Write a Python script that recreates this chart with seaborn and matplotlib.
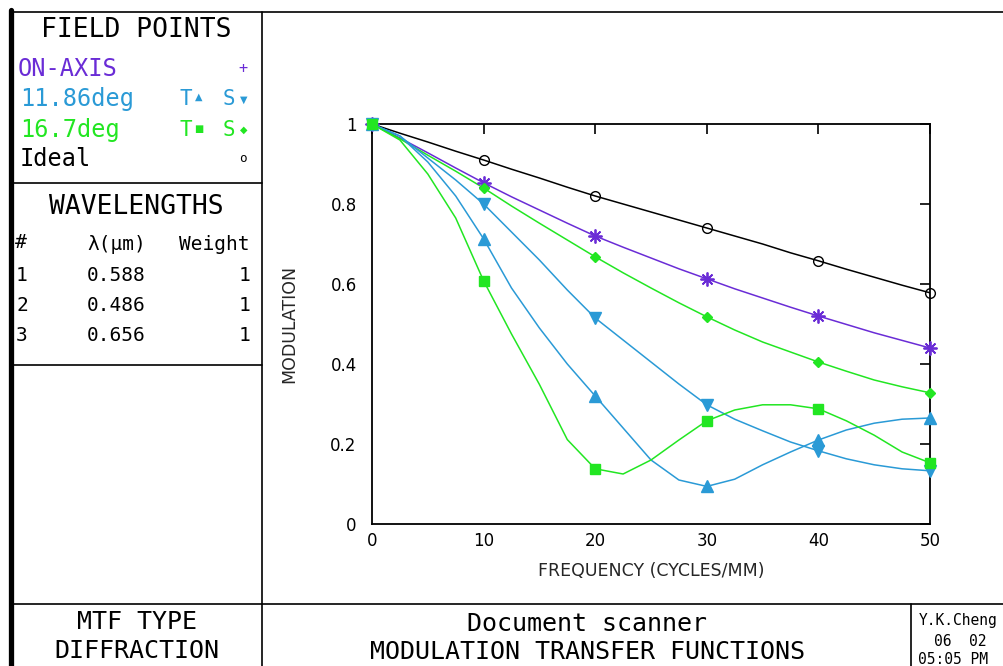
import matplotlib
matplotlib.use("Agg")
import matplotlib.pyplot as plt
from matplotlib.lines import Line2D
import seaborn as sns
import pandas as pd

freq = [0, 2.5, 5, 7.5, 10, 12.5, 15, 17.5, 20, 22.5, 25,
        27.5, 30, 32.5, 35, 37.5, 40, 42.5, 45, 47.5, 50]
on_axis = [1.0, 0.965, 0.928, 0.89, 0.853, 0.818, 0.785, 0.752, 0.72, 0.692, 0.665,
           0.638, 0.613, 0.588, 0.565, 0.542, 0.52, 0.499, 0.478, 0.459, 0.44]
tan_1186 = [1.0, 0.97, 0.905, 0.82, 0.713, 0.59, 0.49, 0.40, 0.32, 0.24, 0.16,
            0.11, 0.094, 0.112, 0.148, 0.18, 0.21, 0.235, 0.252, 0.262, 0.265]
sag_1186 = [1.0, 0.97, 0.915, 0.86, 0.80, 0.73, 0.66, 0.585, 0.515, 0.46, 0.405,
            0.35, 0.298, 0.262, 0.233, 0.205, 0.183, 0.163, 0.148, 0.138, 0.133]
tan_167 = [1.0, 0.96, 0.875, 0.765, 0.608, 0.475, 0.349, 0.211, 0.138, 0.125, 0.16,
           0.21, 0.258, 0.285, 0.298, 0.298, 0.288, 0.258, 0.222, 0.18, 0.153]
sag_167 = [1.0, 0.963, 0.922, 0.882, 0.84, 0.795, 0.752, 0.71, 0.668, 0.628, 0.59,
           0.553, 0.518, 0.485, 0.455, 0.43, 0.405, 0.382, 0.36, 0.343, 0.328]
ideal = [1.0, 0.977, 0.955, 0.932, 0.91, 0.887, 0.865, 0.842, 0.82, 0.80, 0.78,
         0.76, 0.74, 0.72, 0.70, 0.678, 0.658, 0.637, 0.617, 0.597, 0.578]

wl_index = ["1", "2", "3"]
wavelengths = ["0.588", "0.486", "0.656"]
weights = ["1", "1", "1"]

PURPLE = "#6a2cd6"
BLUE = "#2a9ad6"
GREEN = "#22e622"

styles = {
    "ideal": dict(color="black", marker="o", ms=7, mfc="none", mew=1.0),
    "on_axis": dict(color=PURPLE, marker=(8, 2, 0), ms=10, mew=1.3),
    "sag_167": dict(color=GREEN, marker="D", ms=5),
    "sag_1186": dict(color=BLUE, marker="v", ms=8),
    "tan_1186": dict(color=BLUE, marker="^", ms=8),
    "tan_167": dict(color=GREEN, marker="s", ms=7),
}
series = {"ideal": ideal, "on_axis": on_axis, "sag_167": sag_167,
          "sag_1186": sag_1186, "tan_1186": tan_1186, "tan_167": tan_167}

rows = []
for name, vals in series.items():
    for f, v in zip(freq, vals):
        rows.append({"freq": f, "mtf": v, "series": name})
df = pd.DataFrame(rows)

sns.set_style("white")
plt.rcParams["font.family"] = ["DejaVu Sans"]

W, H = 1004, 666
fig = plt.figure(figsize=(W / 100, H / 100), dpi=100)
ax = fig.add_axes([372 / W, 1 - 524 / H, 558 / W, 400 / H])

for name in series:
    st = styles[name]
    sub = df[df["series"] == name]
    sns.lineplot(data=sub, x="freq", y="mtf", color=st["color"], lw=1.1,
                 ax=ax, legend=False, estimator=None)
    pts = sub[sub["freq"] % 10 == 0]
    ax.plot(pts["freq"], pts["mtf"], ls="none", marker=st["marker"], ms=st["ms"],
            color=st["color"], mfc=st.get("mfc", st["color"]),
            mew=st.get("mew", 1.0), clip_on=False, zorder=5)

ax.set_xlim(0, 50)
ax.set_ylim(0, 1)
ax.set_xticks([0, 10, 20, 30, 40, 50])
ax.set_xticklabels(["0", "10", "20", "30", "40", "50"])
ax.set_yticks([0, 0.2, 0.4, 0.6, 0.8, 1.0])
ax.set_yticklabels(["0", "0.2", "0.4", "0.6", "0.8", "1"])
ax.tick_params(direction="in", top=True, right=True, length=7, width=1.2,
               labelsize=12, colors="black")
ax.tick_params(axis="y", pad=11)
ax.tick_params(axis="x", pad=6)
for sp in ax.spines.values():
    sp.set_visible(True)
    sp.set_color("black")
    sp.set_linewidth(1.3)
ax.set_facecolor("white")

ax.set_xlabel("FREQUENCY (CYCLES/MM)", fontsize=12.5)
ax.set_ylabel("MODULATION", fontsize=12.5)
ax.xaxis.set_label_coords(0.5, -0.095)
ax.yaxis.set_label_coords(-0.133, 0.5)


def hline(y, x0, x1, lw=1.2):
    fig.add_artist(Line2D([x0 / W, x1 / W], [1 - y / H, 1 - y / H],
                          color="black", lw=lw, transform=fig.transFigure))


def vline(x, y0, y1, lw=1.2):
    fig.add_artist(Line2D([x / W, x / W], [1 - y0 / H, 1 - y1 / H],
                          color="black", lw=lw, transform=fig.transFigure))


def txt(x, y, s, size, color="black", ha="left", family="DejaVu Sans Mono"):
    fig.text(x / W, 1 - y / H, s, fontsize=size, color=color, ha=ha,
             va="center", family=family)


# frame of the drawing sheet
hline(12, 10, W)
vline(11, 10, H, lw=3.8)
vline(262, 12, H)
hline(183, 11, 262)
hline(365, 11, 262)
hline(604, 11, W)
vline(911, 604, H)

# field points box
txt(136, 30, "FIELD POINTS", 19, ha="center")
txt(18, 69, "ON-AXIS", 17, PURPLE)
txt(243, 69, "+", 11, PURPLE, ha="center")
txt(20, 99, "11.86deg", 17, BLUE)
txt(186, 99, "T", 15, BLUE, ha="center")
txt(199, 97, "▲", 7, BLUE, ha="center", family="DejaVu Sans")
txt(229, 99, "S", 15, BLUE, ha="center")
txt(244, 100, "▼", 7, BLUE, ha="center", family="DejaVu Sans")
txt(20, 130, "16.7deg", 17, GREEN)
txt(186, 130, "T", 15, GREEN, ha="center")
txt(199, 129, "■", 7, GREEN, ha="center", family="DejaVu Sans")
txt(229, 130, "S", 15, GREEN, ha="center")
txt(244, 130, "◆", 7, GREEN, ha="center", family="DejaVu Sans")
txt(20, 159, "Ideal", 17)
txt(243, 158, "o", 9, ha="center")

# wavelengths box
txt(136, 207, "WAVELENGTHS", 19, ha="center")
txt(15, 242, "#", 14)
txt(87, 244, "λ(μm)", 14)
txt(250, 244, "Weight", 14, ha="right")
for i, (n, wl, wt) in enumerate(zip(wl_index, wavelengths, weights)):
    y = 275 + 30 * i
    txt(16, y, n, 14)
    txt(87, y, wl, 14)
    txt(250, y, wt, 14, ha="right")

# title block
txt(137, 622, "MTF TYPE", 18, ha="center")
txt(137, 651, "DIFFRACTION", 18, ha="center")
txt(587, 624, "Document scanner", 18, ha="center")
txt(587, 652, "MODULATION TRANSFER FUNCTIONS", 18, ha="center")
txt(919, 620, "Y.K.Cheng", 10.5)
txt(934, 642, "06  02", 10.5)
txt(918, 660, "05:05 PM", 10.5)

fig.savefig("out.png", dpi=100)
